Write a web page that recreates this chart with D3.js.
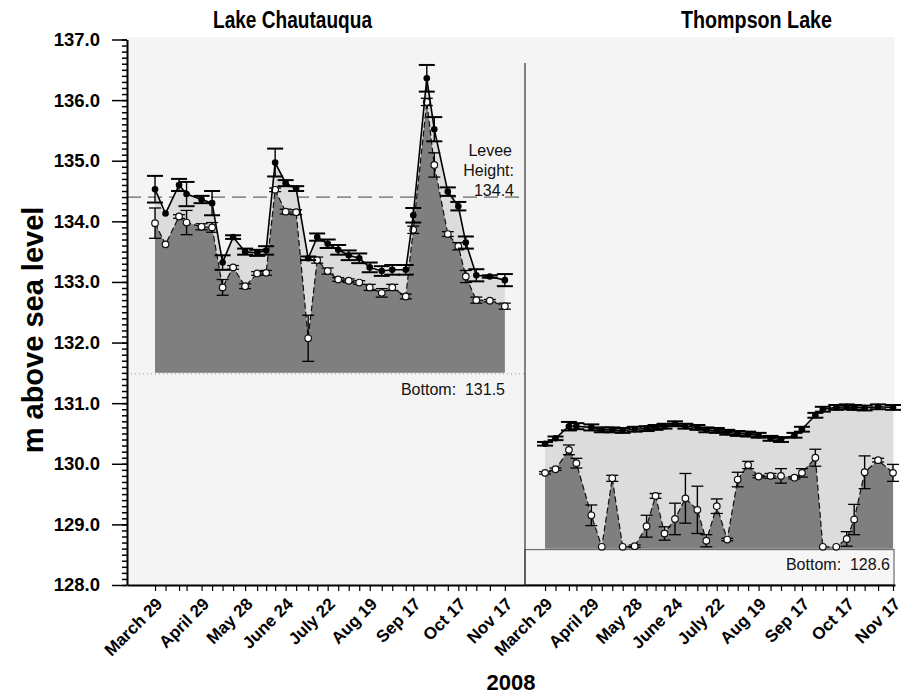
<!DOCTYPE html>
<html>
<head>
<meta charset="UTF-8">
<title>Lake levels 2008</title>
<script src="https://d3js.org/d3.v7.min.js"></script>
<style>
  body { margin: 0; background: #fff; }
  svg text { font-family: "Liberation Sans", Arial, sans-serif; }
</style>
</head>
<body>
<div id="chart"></div>
<script>
// sampling dates (same for both lakes)
const dates = ["2008-03-29","2008-04-05","2008-04-14","2008-04-19","2008-04-29","2008-05-06","2008-05-13",
  "2008-05-20","2008-05-28","2008-06-05","2008-06-11","2008-06-17","2008-06-24","2008-07-01","2008-07-09",
  "2008-07-15","2008-07-22","2008-07-29","2008-08-05","2008-08-12","2008-08-19","2008-08-27","2008-09-03",
  "2008-09-12","2008-09-17","2008-09-26","2008-10-01","2008-10-10","2008-10-17","2008-10-22","2008-10-29",
  "2008-11-07","2008-11-17"];
const tickLabels = ["March 29","April 29","May 28","June 24","July 22","Aug 19","Sep 17","Oct 17","Nov 17"];

// Lake Chautauqua
const chautUpper = [134.53,134.13,134.60,134.45,134.36,134.30,133.32,133.74,133.50,133.48,133.52,134.97,134.63,
  134.54,133.39,133.74,133.63,133.53,133.44,133.39,133.24,133.18,133.20,133.20,134.10,136.36,135.52,134.49,
  134.25,133.65,133.11,133.09,133.03];
const chautUpperErr = [0.22,0,0.1,0.2,0.06,0.2,0.12,0.03,0.05,0.05,0.07,0.23,0.05,0.04,0.03,0.06,0.07,0.08,
  0.08,0.08,0.08,0.08,0.08,0.08,0.12,0.22,0.2,0.07,0.07,0.1,0.1,0.02,0.1];
const chautLower = [133.97,133.62,134.08,133.98,133.91,133.90,132.91,133.24,132.93,133.14,133.15,134.52,134.16,
  134.15,132.07,133.36,133.18,133.04,133.02,132.99,132.91,132.82,132.91,132.76,133.86,135.97,134.93,133.79,
  133.59,133.09,132.70,132.69,132.60];
const chautLowerErr = [0.25,0,0.03,0.2,0.05,0.08,0.13,0.03,0.04,0.03,0.04,0.03,0.04,0.04,0.38,0.05,0.05,0.03,
  0.03,0.03,0.05,0.07,0.05,0.04,0.06,0.06,0.2,0.04,0.06,0.1,0.05,0.02,0.05];
const chautLevee = 134.4;
const chautBottom = 131.5;

// Thompson Lake
const thompUpper = [130.33,130.42,130.62,130.62,130.60,130.56,130.56,130.55,130.57,130.58,130.60,130.62,130.66,
  130.62,130.60,130.56,130.55,130.52,130.50,130.49,130.47,130.42,130.40,130.47,130.57,130.80,130.90,130.93,
  130.94,130.93,130.92,130.94,130.93];
const thompUpperErr = [0.03,0.03,0.07,0.05,0.05,0.04,0.04,0.04,0.04,0.04,0.04,0.04,0.04,0.04,0.04,0.04,0.04,
  0.04,0.04,0.04,0.04,0.04,0.04,0.04,0.04,0.04,0.04,0.04,0.04,0.04,0.04,0.04,0.04];
const thompLower = [129.85,129.91,130.23,130.01,129.15,128.63,129.76,128.63,128.64,128.97,129.47,128.85,129.09,
  129.43,129.24,128.73,129.30,128.75,129.74,129.98,129.79,129.80,129.80,129.77,129.85,130.10,128.63,128.63,
  128.76,129.08,129.86,130.06,129.85];
const thompLowerErr = [0.02,0.02,0.08,0.08,0.17,0,0.05,0,0.02,0.18,0.04,0.11,0.26,0.41,0.39,0.1,0.12,0.02,0.12,
  0.06,0.02,0.04,0.12,0.02,0.07,0.14,0,0,0.12,0.25,0.27,0.03,0.14];
const thompBottom = 128.6;

const parse = d3.timeParse("%Y-%m-%d");
const days = dates.map(parse);

const W = 905, H = 697;
const svg = d3.select("#chart").append("svg").attr("width", W).attr("height", H);

const y = d3.scaleLinear().domain([128, 137]).range([585, 39.5]);
const xL = d3.scaleTime().domain([new Date(2008, 2, 10, 8), new Date(2008, 10, 30, 10)]).range([127, 525]);
const xR = d3.scaleTime().domain([new Date(2008, 2, 15, 14), new Date(2008, 10, 18, 8)]).range([525, 895]);

// plot background
svg.append("rect").attr("x", 127).attr("y", 37).attr("width", 768).attr("height", 548).attr("fill", "#f4f4f4");

function panel(x, upper, upperErr, lower, lowerErr, bottom) {
  const up = days.map((d, i) => ({d, v: upper[i], e: upperErr[i]}));
  const lo = days.map((d, i) => ({d, v: lower[i], e: lowerErr[i]}));
  const g = svg.append("g");

  // light band: upper line down to bottom, dark area drawn on top
  g.append("path").datum(up)
    .attr("d", d3.area().x(d => x(d.d)).y0(y(bottom)).y1(d => y(d.v)))
    .attr("fill", "#dcdcdc");
  g.append("path").datum(lo)
    .attr("d", d3.area().x(d => x(d.d)).y0(y(bottom)).y1(d => y(d.v)))
    .attr("fill", "#7f7f7f");

  // lower series: dashed line, error bars, open circles
  g.append("path").datum(lo)
    .attr("d", d3.line().x(d => x(d.d)).y(d => y(d.v)))
    .attr("fill", "none").attr("stroke", "#111").attr("stroke-width", 1.2).attr("stroke-dasharray", "6,3");
  errorBars(g, lo, x, 6, 1.3);
  g.selectAll(".open").data(lo).join("circle")
    .attr("cx", d => x(d.d)).attr("cy", d => y(d.v)).attr("r", 3.3)
    .attr("fill", "#fff").attr("stroke", "#111").attr("stroke-width", 1.2);

  // upper series: solid line, error bars, filled circles
  g.append("path").datum(up)
    .attr("d", d3.line().x(d => x(d.d)).y(d => y(d.v)))
    .attr("fill", "none").attr("stroke", "#000").attr("stroke-width", 1.6);
  errorBars(g, up, x, 8, 2);
  g.selectAll(".filled").data(up).join("circle")
    .attr("cx", d => x(d.d)).attr("cy", d => y(d.v)).attr("r", 3.3)
    .attr("fill", "#000");
}

function errorBars(g, data, x, cap, sw) {
  const eb = g.append("g").attr("stroke", "#000").attr("stroke-width", sw);
  data.filter(d => d.e > 0).forEach(d => {
    const cx = x(d.d), t = y(d.v + d.e), b = y(d.v - d.e);
    eb.append("line").attr("x1", cx).attr("x2", cx).attr("y1", t).attr("y2", b).attr("stroke-width", 1.4);
    eb.append("line").attr("x1", cx - cap).attr("x2", cx + cap).attr("y1", t).attr("y2", t);
    eb.append("line").attr("x1", cx - cap).attr("x2", cx + cap).attr("y1", b).attr("y2", b);
  });
}

// Lake Chautauqua reference lines
svg.append("line").attr("x1", 127).attr("x2", 525).attr("y1", y(chautLevee)).attr("y2", y(chautLevee))
  .attr("stroke", "#444").attr("stroke-width", 1).attr("stroke-dasharray", "14,7");
svg.append("line").attr("x1", 127).attr("x2", 525).attr("y1", y(chautBottom) + 1).attr("y2", y(chautBottom) + 1)
  .attr("stroke", "#999").attr("stroke-width", 1).attr("stroke-dasharray", "1,3");

// Thompson bottom box
svg.append("rect").attr("x", 525).attr("y", y(thompBottom) + 1).attr("width", 369)
  .attr("height", 585 - y(thompBottom) - 1)
  .attr("fill", "#f6f6f6").attr("stroke", "#555").attr("stroke-width", 1);

panel(xL, chautUpper, chautUpperErr, chautLower, chautLowerErr, chautBottom);
panel(xR, thompUpper, thompUpperErr, thompLower, thompLowerErr, thompBottom);

// divider between lakes
svg.append("line").attr("x1", 525).attr("x2", 525).attr("y1", 63).attr("y2", 585)
  .attr("stroke", "#333").attr("stroke-width", 1.2);

// annotations
const note = svg.append("g").attr("font-size", 16).attr("fill", "#111").attr("text-anchor", "end");
note.append("text").attr("x", 512).attr("y", 156).text("Levee");
note.append("text").attr("x", 514).attr("y", 176).text("Height:");
note.append("text").attr("x", 514).attr("y", 196).text("134.4");
note.append("text").attr("x", 505).attr("y", 395).attr("xml:space", "preserve").text("Bottom:  131.5");
note.append("text").attr("x", 890).attr("y", 570).attr("xml:space", "preserve").text("Bottom:  128.6");

// y axis
svg.append("g").attr("transform", "translate(127,0)")
  .call(d3.axisLeft(y).ticks(90).tickSize(5).tickFormat(""))
  .call(g => g.select(".domain").remove())
  .call(g => g.selectAll("line").attr("stroke-width", 1.5));
svg.append("g").attr("transform", "translate(127,0)")
  .call(d3.axisLeft(y).tickValues(d3.range(128, 137.5, 1)).tickSize(15).tickSizeOuter(0).tickPadding(12)
    .tickFormat(d3.format(".1f")))
  .call(g => g.select(".domain").attr("stroke-width", 2))
  .call(g => g.selectAll("line").attr("stroke-width", 1.5))
  .call(g => g.selectAll("text").attr("font-size", 18.5).attr("font-weight", "bold").attr("fill", "#000"));

// x axes
function xAxis(x) {
  svg.append("g").attr("transform", "translate(0,585)")
    .call(d3.axisBottom(x).tickValues(days).tickSize(6).tickSizeOuter(0)
      .tickFormat((d, i) => i % 4 === 0 ? tickLabels[i / 4] : ""))
    .call(g => g.select(".domain").attr("stroke-width", 2))
    .call(g => g.selectAll("line").attr("stroke-width", 1.2))
    .call(g => g.selectAll("text")
      .attr("font-size", 17).attr("font-weight", "bold").attr("fill", "#000")
      .attr("text-anchor", "end").attr("dy", null).attr("y", 0)
      .attr("transform", "translate(8,20) rotate(-45)"));
}
xAxis(xL);
xAxis(xR);

// titles
svg.append("text").attr("x", 213).attr("y", 28).attr("textLength", 159).attr("lengthAdjust", "spacingAndGlyphs")
  .attr("font-size", 23).attr("font-weight", "bold").text("Lake Chautauqua");
svg.append("text").attr("x", 681).attr("y", 28).attr("textLength", 151).attr("lengthAdjust", "spacingAndGlyphs")
  .attr("font-size", 23).attr("font-weight", "bold").text("Thompson Lake");
svg.append("text").attr("transform", "translate(43,330) rotate(-90)").attr("text-anchor", "middle")
  .attr("font-size", 29).attr("font-weight", "bold").text("m above sea level");
svg.append("text").attr("x", 511).attr("y", 690).attr("text-anchor", "middle")
  .attr("font-size", 22).attr("font-weight", "bold").text("2008");
</script>
</body>
</html>
